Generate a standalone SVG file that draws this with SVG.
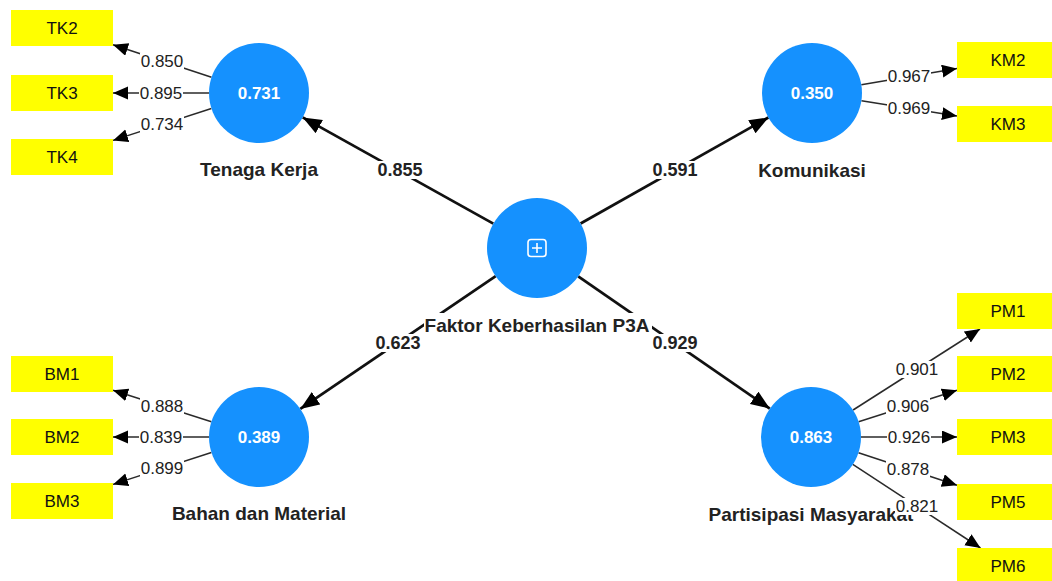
<svg xmlns="http://www.w3.org/2000/svg" width="1052" height="581" viewBox="0 0 1052 581">
<style>
.lv{fill:#1591fe;}
.ind{fill:#ffff00;}
.val{font-family:"Liberation Sans",Arial,sans-serif;font-size:17px;font-weight:bold;fill:#ffffff;text-anchor:middle;}
.nm{font-family:"Liberation Sans",Arial,sans-serif;font-size:19px;font-weight:bold;fill:#222222;text-anchor:middle;}
.it{font-family:"Liberation Sans",Arial,sans-serif;font-size:17px;fill:#111111;text-anchor:middle;}
.ld{stroke:#2a2a2a;stroke-width:1.5;fill:none;marker-end:url(#a1);}
.pc{stroke:#111111;stroke-width:2.8;fill:none;marker-end:url(#a2);}
.lt{font-family:"Liberation Sans",Arial,sans-serif;font-size:17px;fill:#222222;text-anchor:middle;}
.pt{font-family:"Liberation Sans",Arial,sans-serif;font-size:18px;font-weight:bold;fill:#222222;text-anchor:middle;}
.bg{fill:#ffffff;}
</style>
<defs>
<marker id="a1" markerUnits="userSpaceOnUse" markerWidth="16" markerHeight="14" refX="15" refY="6.5" orient="auto">
<path d="M0,0 L15,6.5 L0,13 Z" fill="#000"/>
</marker>
<marker id="a2" markerUnits="userSpaceOnUse" markerWidth="20" markerHeight="16" refX="19" refY="7.5" orient="auto">
<path d="M0,0 L19,7.5 L0,15 Z" fill="#000"/>
</marker>
</defs>
<rect width="1052" height="581" fill="#ffffff"/>

<g id="connectors">
<line class="pc" x1="493.3" y1="223.6" x2="302.7" y2="117.4"/>
<line class="pc" x1="580.6" y1="223.5" x2="768.4" y2="117.5"/>
<line class="pc" x1="495.7" y1="276.1" x2="300.3" y2="408.9"/>
<line class="pc" x1="578.2" y1="276.4" x2="769.8" y2="408.6"/>

<line class="ld" x1="211.5" y1="77.3" x2="113" y2="44.8"/>
<line class="ld" x1="209" y1="93" x2="113" y2="93"/>
<line class="ld" x1="211.4" y1="108.5" x2="113" y2="140.4"/>
<line class="ld" x1="211.4" y1="421.8" x2="113" y2="390.3"/>
<line class="ld" x1="209" y1="437" x2="113" y2="437"/>
<line class="ld" x1="211.4" y1="452.5" x2="113" y2="484.4"/>
<line class="ld" x1="861.3" y1="84.7" x2="957" y2="68.6"/>
<line class="ld" x1="861.4" y1="100.8" x2="957" y2="115.9"/>
<line class="ld" x1="853.1" y1="410" x2="980" y2="329"/>
<line class="ld" x1="858.6" y1="421.8" x2="957" y2="390.3"/>
<line class="ld" x1="861" y1="437" x2="957" y2="437"/>
<line class="ld" x1="858.5" y1="452.7" x2="957" y2="485.2"/>
<line class="ld" x1="852.8" y1="464.4" x2="980.5" y2="548"/>
</g>

<g id="node-tk">
<circle class="lv" cx="259" cy="93" r="50"/>
<text class="val" x="259" y="99">0.731</text>
<text class="nm" x="259" y="176">Tenaga Kerja</text>
</g>
<g id="node-km">
<circle class="lv" cx="812" cy="93" r="50"/>
<text class="val" x="812" y="99">0.350</text>
<text class="nm" x="812" y="177">Komunikasi</text>
</g>
<g id="node-bm">
<circle class="lv" cx="259" cy="437" r="50"/>
<text class="val" x="259" y="443">0.389</text>
<text class="nm" x="259" y="520">Bahan dan Material</text>
</g>
<g id="node-pm">
<circle class="lv" cx="811" cy="437" r="50"/>
<text class="val" x="811" y="443">0.863</text>
<text class="nm" x="811" y="521">Partisipasi Masyarakat</text>
</g>
<g id="node-p3a">
<circle class="lv" cx="537" cy="248" r="50"/>
<rect x="528" y="239.5" width="18" height="17" rx="3" fill="none" stroke="#ffffff" stroke-width="1.6"/>
<path d="M537,243 V253 M532,248 H542" stroke="#ffffff" stroke-width="1.6"/>
<rect class="bg" x="424" y="313" width="228" height="25"/>
<text class="nm" x="537" y="332">Faktor Keberhasilan P3A</text>
</g>

<g id="node-tk2"><rect class="ind" x="11" y="10" width="102" height="36"/><text class="it" x="62" y="34">TK2</text></g>
<g id="node-tk3"><rect class="ind" x="11" y="75" width="102" height="36"/><text class="it" x="62" y="99">TK3</text></g>
<g id="node-tk4"><rect class="ind" x="11" y="139" width="102" height="36"/><text class="it" x="62" y="163">TK4</text></g>
<g id="node-bm1"><rect class="ind" x="11" y="356" width="102" height="36"/><text class="it" x="62" y="380">BM1</text></g>
<g id="node-bm2"><rect class="ind" x="11" y="419" width="102" height="36"/><text class="it" x="62" y="443">BM2</text></g>
<g id="node-bm3"><rect class="ind" x="11" y="483" width="102" height="36"/><text class="it" x="62" y="507">BM3</text></g>
<g id="node-km2"><rect class="ind" x="957" y="42" width="102" height="36"/><text class="it" x="1008" y="66">KM2</text></g>
<g id="node-km3"><rect class="ind" x="957" y="106" width="102" height="36"/><text class="it" x="1008" y="130">KM3</text></g>
<g id="node-pm1"><rect class="ind" x="957" y="293" width="102" height="36"/><text class="it" x="1008" y="317">PM1</text></g>
<g id="node-pm2"><rect class="ind" x="957" y="356" width="102" height="36"/><text class="it" x="1008" y="380">PM2</text></g>
<g id="node-pm3"><rect class="ind" x="957" y="419" width="102" height="36"/><text class="it" x="1008" y="443">PM3</text></g>
<g id="node-pm5"><rect class="ind" x="957" y="484" width="102" height="36"/><text class="it" x="1008" y="508">PM5</text></g>
<g id="node-pm6"><rect class="ind" x="957" y="548" width="102" height="36"/><text class="it" x="1008" y="572">PM6</text></g>

<g id="connector-labels">
<rect class="bg" x="376" y="161" width="48" height="18"/><text class="pt" x="400" y="176">0.855</text>
<rect class="bg" x="651" y="161" width="48" height="18"/><text class="pt" x="675" y="176">0.591</text>
<rect class="bg" x="374" y="334" width="48" height="18"/><text class="pt" x="398" y="349">0.623</text>
<rect class="bg" x="651" y="334" width="48" height="18"/><text class="pt" x="675" y="349">0.929</text>

<rect class="bg" x="140" y="53" width="44" height="17"/><text class="lt" x="162" y="67">0.850</text>
<rect class="bg" x="139" y="85" width="44" height="17"/><text class="lt" x="161" y="99">0.895</text>
<rect class="bg" x="140" y="116" width="44" height="17"/><text class="lt" x="162" y="130">0.734</text>
<rect class="bg" x="140" y="398" width="44" height="17"/><text class="lt" x="162" y="412">0.888</text>
<rect class="bg" x="139" y="429" width="44" height="17"/><text class="lt" x="161" y="443">0.839</text>
<rect class="bg" x="140" y="460" width="44" height="17"/><text class="lt" x="162" y="474">0.899</text>
<rect class="bg" x="887" y="68" width="44" height="17"/><text class="lt" x="909" y="82">0.967</text>
<rect class="bg" x="887" y="100" width="44" height="17"/><text class="lt" x="909" y="114">0.969</text>
<rect class="bg" x="895" y="361" width="44" height="17"/><text class="lt" x="917" y="375">0.901</text>
<rect class="bg" x="886" y="398" width="44" height="17"/><text class="lt" x="908" y="412">0.906</text>
<rect class="bg" x="887" y="429" width="44" height="17"/><text class="lt" x="909" y="443">0.926</text>
<rect class="bg" x="886" y="461" width="44" height="17"/><text class="lt" x="908" y="475">0.878</text>
<rect class="bg" x="895" y="498" width="44" height="17"/><text class="lt" x="917" y="512">0.821</text>
</g>
</svg>
